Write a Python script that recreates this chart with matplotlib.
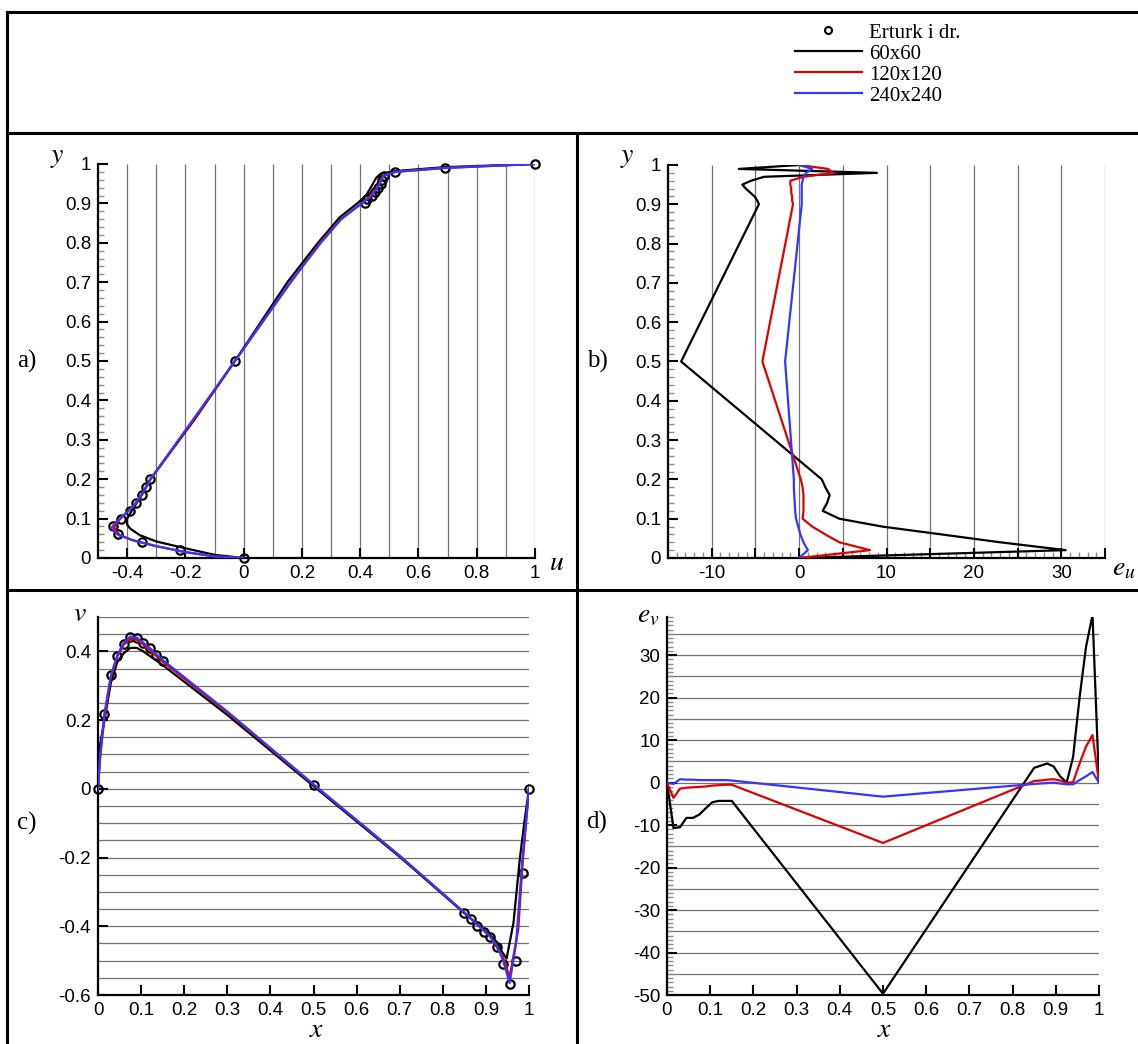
import numpy as np
import matplotlib
matplotlib.use("Agg")
import matplotlib.pyplot as plt
from matplotlib.lines import Line2D
from matplotlib.ticker import FixedLocator, MultipleLocator, FuncFormatter

plt.rcParams['font.family'] = ['Liberation Sans', 'DejaVu Sans']
plt.rcParams['mathtext.fontset'] = 'stix'

# ---- data: u along vertical centreline (Erturk points at fixed y) ----
y_ref = [0, 0.02, 0.04, 0.06, 0.08, 0.10, 0.12, 0.14, 0.16, 0.18, 0.20, 0.5,
         0.90, 0.91, 0.92, 0.93, 0.94, 0.95, 0.96, 0.97, 0.98, 0.99, 1.0]
u_ref = [0, -0.22, -0.35, -0.43, -0.45, -0.42, -0.39, -0.37, -0.35, -0.335, -0.32, -0.03,
         0.415, 0.425, 0.44, 0.45, 0.46, 0.47, 0.475, 0.48, 0.52, 0.69, 1.0]

u_60_y = [0, 0.008, 0.028, 0.042, 0.058, 0.075, 0.085, 0.10, 0.125, 0.16, 0.2, 0.35, 0.5,
          0.70, 0.80, 0.865, 0.90, 0.92, 0.945, 0.965, 0.975, 0.982, 0.992, 1.0]
u_60 = [0, -0.1, -0.22, -0.3, -0.357, -0.39, -0.40, -0.40, -0.38, -0.35, -0.32, -0.17, -0.03,
        0.15, 0.255, 0.33, 0.39, 0.42, 0.44, 0.455, 0.47, 0.52, 0.69, 1.0]
u_120_y = [0, 0.004, 0.015, 0.03, 0.045, 0.058, 0.075, 0.09, 0.11, 0.13, 0.16, 0.2, 0.35, 0.5,
           0.70, 0.80, 0.86, 0.90, 0.92, 0.94, 0.955, 0.97, 0.98, 0.99, 1.0]
u_120 = [0, -0.1, -0.2, -0.3, -0.38, -0.425, -0.445, -0.435, -0.41, -0.38, -0.35, -0.32, -0.172,
         -0.03, 0.162, 0.262, 0.333, 0.405, 0.435, 0.458, 0.468, 0.478, 0.52, 0.69, 1.0]
u_240_y = [0, 0.004, 0.015, 0.03, 0.045, 0.058, 0.075, 0.09, 0.11, 0.13, 0.16, 0.2, 0.35, 0.5,
           0.70, 0.80, 0.86, 0.90, 0.92, 0.94, 0.955, 0.97, 0.98, 0.99, 1.0]
u_240 = [0, -0.1, -0.2, -0.3, -0.38, -0.43, -0.455, -0.44, -0.41, -0.38, -0.35, -0.32, -0.175,
         -0.03, 0.16, 0.265, 0.335, 0.405, 0.44, 0.46, 0.47, 0.48, 0.52, 0.69, 1.0]

# ---- relative error of u at Erturk points ----
eu_y = y_ref[::-1]
eu_60 = [0, -6.9, 8.9, -4.0, -5.5, -6.5, -6.1, -5.6, -5.1, -4.8, -4.6, -13.5,
         2.6, 3.0, 3.5, 3.2, 2.7, 4.6, 9.5, 16.3, 23.0, 30.5, 0]
eu_120 = [0, 3.3, 3.9, 0.5, -1.0, -1.0, -0.9, -0.9, -0.8, -0.8, -0.7, -4.2,
          0.2, 0.4, 0.5, 0.5, 0.5, 0.4, 1.5, 3.0, 4.6, 8.1, 0]
eu_240 = [0, 1.5, 0.8, 0.5, 0.4, 0.3, 0.3, 0.3, 0.3, 0.3, 0.3, -1.6,
          -0.6, -0.6, -0.55, -0.5, -0.45, -0.35, -0.1, 0.15, 0.5, 1.0, 0]

# ---- v along horizontal centreline ----
x_ref = [0, 0.015, 0.03, 0.045, 0.06, 0.075, 0.09, 0.105, 0.12, 0.135, 0.15, 0.5,
         0.85, 0.865, 0.88, 0.895, 0.91, 0.925, 0.94, 0.955, 0.97, 0.985, 1.0]
v_ref = [0, 0.217, 0.33, 0.386, 0.422, 0.441, 0.439, 0.424, 0.41, 0.39, 0.371, 0.011,
         -0.36, -0.38, -0.40, -0.418, -0.432, -0.46, -0.51, -0.569, -0.50, -0.245, 0]

v_60_x = [0, 0.005, 0.015, 0.03, 0.045, 0.06, 0.075, 0.09, 0.105, 0.15, 0.3, 0.5, 0.7,
          0.85, 0.91, 0.925, 0.935, 0.948, 0.964, 0.979, 0.99, 1.0]
v_60 = [0, 0.13, 0.2, 0.31, 0.37, 0.395, 0.41, 0.41, 0.40, 0.36, 0.215, 0.008, -0.198,
        -0.362, -0.426, -0.445, -0.47, -0.494, -0.39, -0.20, -0.09, 0]
v_120_x = [0, 0.005, 0.015, 0.03, 0.045, 0.06, 0.075, 0.09, 0.105, 0.15, 0.3, 0.5, 0.7,
           0.85, 0.91, 0.94, 0.955, 0.975, 0.985, 1.0]
v_120 = [0, 0.09, 0.21, 0.325, 0.385, 0.42, 0.436, 0.434, 0.42, 0.37, 0.222, 0.012, -0.195,
         -0.36, -0.43, -0.49, -0.548, -0.41, -0.22, 0]
v_240_x = [0, 0.005, 0.015, 0.03, 0.045, 0.06, 0.075, 0.09, 0.105, 0.12, 0.15, 0.3, 0.5, 0.7,
           0.85, 0.88, 0.91, 0.925, 0.94, 0.955, 0.97, 0.985, 1.0]
v_240 = [0, 0.10, 0.22, 0.33, 0.39, 0.425, 0.443, 0.44, 0.425, 0.41, 0.375, 0.225, 0.013, -0.195,
         -0.36, -0.395, -0.43, -0.455, -0.50, -0.565, -0.45, -0.2, 0]

# ---- relative error of v at Erturk points ----
ev_60 = [0, -10.7, -10.5, -8.3, -8.3, -7.5, -6.0, -4.6, -4.3, -4.3, -4.3, -49.7,
         3.5, 4.0, 4.5, 3.8, 1.5, 0, 6.0, 20.0, 32.0, 39.5, 0]
ev_120 = [0, -3.6, -1.4, -1.2, -1.1, -1.0, -0.9, -0.7, -0.6, -0.5, -0.5, -14.2,
          0.4, 0.5, 0.7, 0.8, 0.5, 0, 0.1, 4.5, 8.5, 11.2, 0]
ev_240 = [0, -0.3, 0.8, 0.7, 0.7, 0.6, 0.6, 0.6, 0.6, 0.6, 0.5, -3.3,
          -0.3, -0.2, -0.1, 0, -0.2, -0.4, -0.4, 0.6, 1.5, 2.5, 0]

labels = ['Erturk i dr.', '60x60', '120x120', '240x240']
colors = ['black', '#e00000', '#3535ff']

W, H = 1138, 1044
fig = plt.figure(figsize=(W / 100, H / 100), dpi=100)


def px_axes(l, r, t, b):
    return fig.add_axes([l / W, 1 - b / H, (r - l) / W, (b - t) / H])


def fmt(v, pos):
    return '%g' % round(v, 6)


def style(ax):
    for s in ['top', 'right']:
        ax.spines[s].set_visible(False)
    for s in ['left', 'bottom']:
        ax.spines[s].set_linewidth(1.6)
    ax.tick_params(which='major', direction='in', length=7, width=1.5, labelsize=13.5, pad=5)
    ax.tick_params(which='minor', direction='in', length=4, width=1.0, color='0.55')
    ax.xaxis.set_major_formatter(FuncFormatter(fmt))
    ax.yaxis.set_major_formatter(FuncFormatter(fmt))


grid_kw = dict(colors='0.45', lw=0.9, zorder=0)
line_kw = dict(lw=1.6, zorder=3)
mark_kw = dict(ls='none', marker='o', ms=6, mfc='none', mec='black', mew=1.6, zorder=2, clip_on=False)

# a) u profile
ax = px_axes(98, 535, 164, 558)
style(ax)
ax.vlines(np.arange(-0.4, 1.01, 0.1), 0, 1, **grid_kw)
ax.plot(u_ref, y_ref, **mark_kw)
ax.plot(u_60, u_60_y, color=colors[0], **line_kw)
ax.plot(u_120, u_120_y, color=colors[1], **line_kw)
ax.plot(u_240, u_240_y, color=colors[2], **line_kw)
ax.set_xlim(-0.5, 1)
ax.set_ylim(0, 1)
ax.xaxis.set_major_locator(FixedLocator(np.arange(-0.4, 1.01, 0.2)))
ax.yaxis.set_major_locator(MultipleLocator(0.1))
ax.yaxis.set_minor_locator(MultipleLocator(0.02))

# b) error of u
ax = px_axes(668, 1105, 165, 558)
style(ax)
ax.vlines(np.arange(-10, 36, 5), 0, 1, **grid_kw)
ax.plot(eu_60, eu_y, color=colors[0], **line_kw)
ax.plot(eu_120, eu_y, color=colors[1], **line_kw)
ax.plot(eu_240, eu_y, color=colors[2], **line_kw)
ax.set_xlim(-15, 35)
ax.set_ylim(0, 1)
ax.xaxis.set_major_locator(MultipleLocator(5))
ax.xaxis.set_minor_locator(MultipleLocator(1))
ax.xaxis.set_major_formatter(FuncFormatter(lambda v, p: '%g' % v if round(v) % 10 == 0 else ''))
ax.yaxis.set_major_locator(MultipleLocator(0.1))
ax.yaxis.set_minor_locator(MultipleLocator(0.02))

# c) v profile
ax = px_axes(98, 529, 617, 995)
style(ax)
ax.hlines(np.arange(-0.55, 0.51, 0.05), 0, 1, **grid_kw)
ax.plot(x_ref, v_ref, **mark_kw)
ax.plot(v_60_x, v_60, color=colors[0], **line_kw)
ax.plot(v_120_x, v_120, color=colors[1], **line_kw)
ax.plot(v_240_x, v_240, color=colors[2], **line_kw)
ax.set_xlim(0, 1)
ax.set_ylim(-0.6, 0.5)
ax.xaxis.set_major_locator(MultipleLocator(0.1))
ax.yaxis.set_major_locator(FixedLocator(np.arange(-0.6, 0.41, 0.2)))

# d) error of v
ax = px_axes(667, 1099, 617, 995)
style(ax)
ax.hlines(np.arange(-45, 36, 5), 0, 1, **grid_kw)
ax.plot(x_ref, ev_60, color=colors[0], **line_kw)
ax.plot(x_ref, ev_120, color=colors[1], **line_kw)
ax.plot(x_ref, ev_240, color=colors[2], **line_kw)
ax.set_xlim(0, 1)
ax.set_ylim(-50, 39)
ax.xaxis.set_major_locator(MultipleLocator(0.1))
ax.yaxis.set_major_locator(MultipleLocator(10))
ax.yaxis.set_minor_locator(MultipleLocator(1))

# axis letters and panel tags, placed in pixels
def ftext(x, y, s, size=20, **kw):
    fig.text(x / W, 1 - y / H, s, fontsize=size, ha='center', va='center', **kw)

ftext(57, 157, r'$y$')
ftext(557, 563, r'$u$')
ftext(627, 157, r'$y$')
ftext(1124, 568, r'$e_u$')
ftext(80, 614, r'$v$')
ftext(317, 1030, r'$x$')
ftext(648, 615, r'$e_v$')
ftext(885, 1030, r'$x$')
for x, y, s in [(27, 361, 'a)'), (597, 361, 'b)'), (27, 823, 'c)'), (597, 822, 'd)')]:
    ftext(x, y, s, size=18, family='Liberation Serif')

# frame lines
frame = [((7, 12), (1138, 12)), ((7, 12), (7, 1044)), ((7, 133), (1138, 133)),
         ((7, 590), (1138, 590)), ((577, 133), (577, 1044))]
for (x0, y0), (x1, y1) in frame:
    fig.add_artist(Line2D([x0 / W, x1 / W], [1 - y0 / H, 1 - y1 / H],
                          transform=fig.transFigure, color='black', lw=2.2))

handles = [Line2D([], [], ls='none', marker='o', ms=5, mfc='none', mec='black', mew=1.5),
           Line2D([], [], color=colors[0], lw=1.6),
           Line2D([], [], color=colors[1], lw=1.6),
           Line2D([], [], color=colors[2], lw=1.6)]
fig.legend(handles, labels, loc='upper left', bbox_to_anchor=(795 / W, 1 - 23 / H),
           frameon=False, borderpad=0, borderaxespad=0, handlelength=3.2, handletextpad=0.35,
           labelspacing=0.07, prop={'family': 'Liberation Serif', 'size': 15})

fig.savefig('out.png', dpi=100)
